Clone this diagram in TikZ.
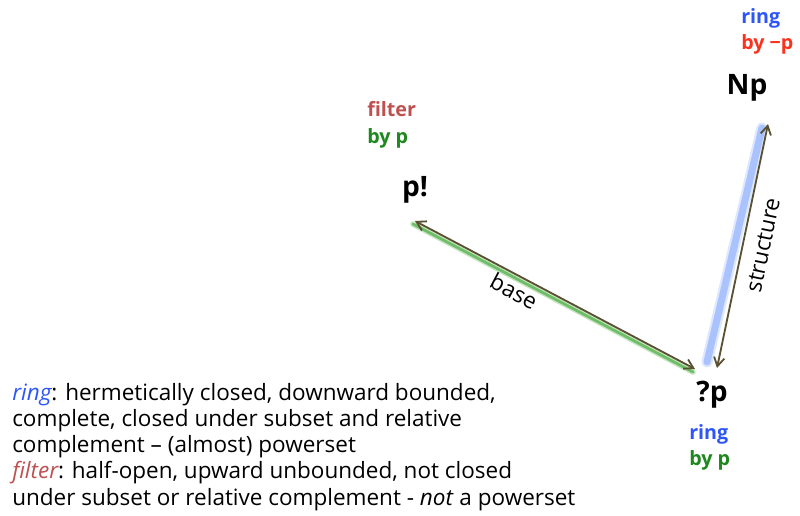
\documentclass[tikz,border=0pt]{standalone}
\usepackage{fontspec}
\setmainfont{Open Sans}
\usepackage{tikz}
\usetikzlibrary{arrows.meta}
\usetikzlibrary{positioning}

\definecolor{ringblue}{RGB}{45,85,250}
\definecolor{minusred}{RGB}{250,50,30}
\definecolor{filterred}{RGB}{190,80,80}
\definecolor{bygreen}{RGB}{30,135,30}
\definecolor{arrowbrown}{RGB}{90,80,50}
\definecolor{glowblue}{RGB}{120,160,255}
\definecolor{glowgreen}{RGB}{90,180,80}

\begin{document}
\begin{tikzpicture}[x=0.025cm,y=-0.025cm]
	\useasboundingbox (0,0) rectangle (800,515);
	\begin{scope}[every node/.style={font=\fontsize{20}{24}\selectfont\bfseries, inner sep=0pt}]
		\node (np) at (747,88) {Np};
		\node (pbang) at (415,190) {p!};
		\node (qp) at (712,395) {?p};
	\end{scope}

	\begin{scope}[every node/.style={font=\fontsize{14}{19}\selectfont\bfseries, align=left, anchor=north west, inner sep=0pt}]
		\node (nplab) at (741,8) {\textcolor{ringblue}{ring}\\\textcolor{minusred}{by −p}};
		\node (pbanglab) at (367,101) {\textcolor{filterred}{filter}\\\textcolor{bygreen}{by p}};
		\node (qplab) at (689,424) {\textcolor{ringblue}{ring}\\\textcolor{bygreen}{by p}};
	\end{scope}

	% glow under the arrows
	\coordinate (b1) at (413,224);
	\coordinate (b2) at (693,372);
	\coordinate (s1) at (762,128);
	\coordinate (s2) at (707,362);
	\draw[glowblue, line width=8pt, opacity=0.25, line cap=round] (s1) -- (s2);
	\draw[glowblue, line width=5pt, opacity=0.5, line cap=round] (s1) -- (s2);
	\draw[glowgreen, line width=4pt, opacity=0.35, line cap=round] (b1) -- (b2);
	\draw[glowgreen, line width=2pt, opacity=0.8, line cap=round] (b1) -- (b2);

	\begin{scope}[>={Straight Barb[length=2.2mm, width=2.6mm]},
	              every node/.style={font=\fontsize{16}{19}\selectfont, text=black}]
		\draw[arrowbrown, line width=1.3pt, <->] (415,221) -- node[pos=0.38, sloped, below=1pt] {base} (695,369);
		\draw[arrowbrown, line width=1.3pt, <->] (717,368) -- node[pos=0.52, sloped, below=5pt] {structure} (768,124);
	\end{scope}

	\node[anchor=north west, align=left, inner sep=0pt,
	      font=\fontsize{16}{18.6}\selectfont] (notes) at (12,383)
	     {\textcolor{ringblue}{\itshape ring}: hermetically closed, downward bounded,\\
	      complete, closed under subset and relative\\
	      complement – (almost) powerset\\
	      \textcolor{filterred}{\itshape filter}: half-open, upward unbounded, not closed\\
	      under subset or relative complement - \textit{not} a powerset};
\end{tikzpicture}
\end{document}
